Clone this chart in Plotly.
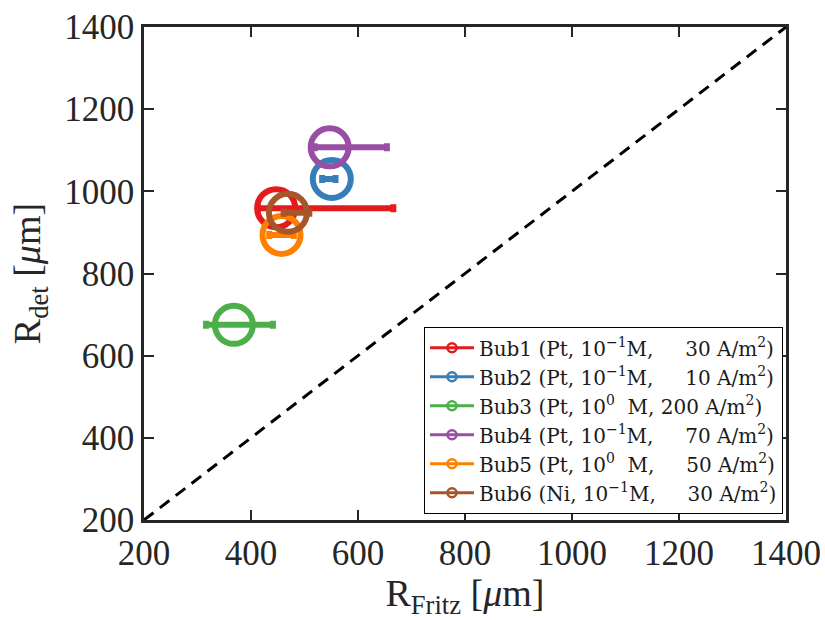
import plotly.graph_objects as go

# Bubble radii: Fritz estimate (x) vs detected (y), with asymmetric x-uncertainty
names = [
    "Bub1 (Pt, 10<sup>−1</sup>M, \u2007\u200730 A/m<sup>2</sup>)",
    "Bub2 (Pt, 10<sup>−1</sup>M, \u2007\u200710 A/m<sup>2</sup>)",
    "Bub3 (Pt, 10<sup>0</sup>\u2007M, 200 A/m<sup>2</sup>)",
    "Bub4 (Pt, 10<sup>−1</sup>M, \u2007\u200770 A/m<sup>2</sup>)",
    "Bub5 (Pt, 10<sup>0</sup>\u2007M, \u2007\u200750 A/m<sup>2</sup>)",
    "Bub6 (Ni, 10<sup>−1</sup>M, \u2007\u200730 A/m<sup>2</sup>)",
]
r_fritz = [447, 551, 368, 547, 457, 469]
r_det = [959, 1030, 675, 1107, 894, 948]
err_minus = [34, 18, 52, 28, 23, 8]
err_plus = [219, 7, 73, 107, 23, 40]
colors = ["#E41A1C", "#377EB8", "#4DAF4A", "#984EA3", "#FF7F00", "#A65628"]

ticks = [200, 400, 600, 800, 1000, 1200, 1400]
axis_range = [200, 1400]

font_family = "Liberation Serif, Times New Roman, serif"
legend_family = "DejaVu Serif, Liberation Serif, serif"
ink = "#262626"

fig = go.Figure()

# parity line
fig.add_trace(go.Scatter(
    x=axis_range, y=axis_range, mode="lines",
    line=dict(color="black", width=3, dash="12px,8px"),
    showlegend=False, hoverinfo="skip",
))

for i in range(len(names)):
    fig.add_trace(go.Scatter(
        x=[r_fritz[i]], y=[r_det[i]], mode="markers",
        marker=dict(symbol="circle-open", size=38, color=colors[i],
                    line=dict(width=6, color=colors[i])),
        error_x=dict(type="data", symmetric=False,
                     array=[err_plus[i]], arrayminus=[err_minus[i]],
                     color=colors[i], thickness=6, width=4),
        legendgroup=f"g{i}", showlegend=False,
    ))
    # legend key
    fig.add_trace(go.Scatter(
        x=[None], y=[None], mode="lines+markers", name=names[i],
        line=dict(color=colors[i], width=3),
        marker=dict(symbol="circle-open", size=9, color=colors[i],
                    line=dict(width=2.5, color=colors[i])),
        legendgroup=f"g{i}",
    ))

axis_common = dict(
    range=axis_range, tickvals=ticks, ticks="inside", ticklen=10, tickwidth=2,
    tickcolor=ink, showline=True, linecolor=ink, linewidth=2.5, mirror="ticks",
    showgrid=False, zeroline=False, automargin=False,
    tickfont=dict(family=font_family, size=35, color=ink),
)

fig.update_layout(
    width=825, height=620,
    margin=dict(l=144, r=39, t=27, b=100, pad=0),
    plot_bgcolor="white", paper_bgcolor="white",
    font=dict(family=font_family, color=ink),
    xaxis=dict(**axis_common,
               title=dict(text="R<sub>Fritz</sub> [<i>μ</i>m]",
                          font=dict(family=font_family, size=38, color=ink),
                          standoff=10)),
    yaxis=dict(**axis_common,
               title=dict(text="R<sub>det</sub> [<i>μ</i>m]",
                          font=dict(family=font_family, size=38, color=ink),
                          standoff=12)),
    legend=dict(
        x=0.995, y=0.012, xanchor="right", yanchor="bottom",
        bgcolor="white", bordercolor="black", borderwidth=1.2,
        font=dict(family=legend_family, size=20, color="#1a1a1a"),
        itemwidth=44, tracegroupgap=0,
    ),
)

fig.write_html("out.html")
